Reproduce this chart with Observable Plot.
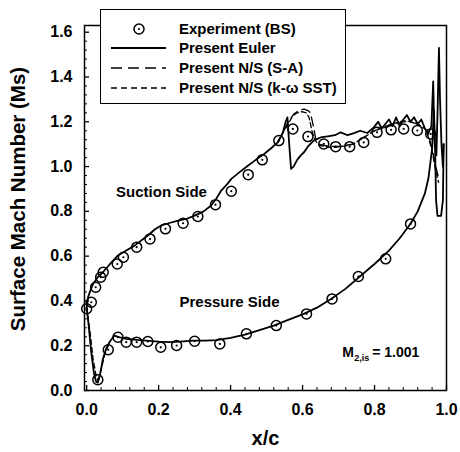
<!DOCTYPE html>
<html>
<head>
<meta charset="utf-8">
<script src="https://cdn.jsdelivr.net/npm/d3@7"></script>
<script src="https://cdn.jsdelivr.net/npm/@observablehq/plot@0.6"></script>
<style>
  html, body { margin: 0; padding: 0; background: white; }
  #wrap { position: relative; width: 460px; height: 452px; font-family: "Liberation Sans", Arial, sans-serif; }
  #legend { position: absolute; left: 100px; top: 9px; width: 244px; height: 93px; border: 1.5px solid black; background: white; font-weight: bold; font-size: 15px; }
  #legend .row { position: absolute; left: 0; height: 18px; width: 100%; }
  #legend svg { position: absolute; left: 8px; top: 0; }
  #legend span { position: absolute; left: 78px; top: 0; line-height: 18px; white-space: nowrap; }
</style>
</head>
<body>
<div id="wrap"></div>
<script>
// ---- Experimental data (BS) ----
const expSucX = [0.0, 0.013, 0.025, 0.039, 0.046, 0.085, 0.102, 0.139, 0.176, 0.219, 0.268, 0.309, 0.358, 0.402, 0.449, 0.488, 0.534, 0.573, 0.615, 0.659, 0.692, 0.731, 0.770, 0.807, 0.846, 0.881, 0.919, 0.956];
const expSucM = [0.365, 0.394, 0.461, 0.506, 0.528, 0.565, 0.595, 0.640, 0.677, 0.722, 0.747, 0.777, 0.830, 0.890, 0.964, 1.030, 1.116, 1.168, 1.134, 1.101, 1.089, 1.089, 1.108, 1.153, 1.164, 1.168, 1.161, 1.146];
const expPresX = [0.031, 0.060, 0.087, 0.110, 0.139, 0.170, 0.206, 0.250, 0.300, 0.370, 0.444, 0.527, 0.611, 0.682, 0.755, 0.831, 0.900];
const expPresM = [0.048, 0.182, 0.238, 0.216, 0.216, 0.219, 0.193, 0.201, 0.220, 0.208, 0.253, 0.290, 0.342, 0.409, 0.509, 0.588, 0.744];

// ---- Present Euler ----
const eulerSucX = [0.0, 0.004, 0.01, 0.018, 0.03, 0.045, 0.065, 0.087, 0.11, 0.133, 0.15, 0.17, 0.19, 0.207, 0.23, 0.254, 0.28, 0.3, 0.325, 0.346, 0.36, 0.374, 0.39, 0.402, 0.425, 0.448, 0.47, 0.494, 0.515, 0.531,
  0.545, 0.553, 0.558, 0.562, 0.568, 0.575, 0.585, 0.595, 0.604, 0.615, 0.631, 0.65, 0.67, 0.69, 0.706, 0.725, 0.743, 0.76, 0.78, 0.798, 0.81, 0.82, 0.83, 0.84, 0.85, 0.86, 0.87, 0.88, 0.89, 0.9, 0.91, 0.92, 0.93, 0.94, 0.95, 0.958, 0.963, 0.967, 0.972, 0.976, 0.979, 0.982, 0.986, 0.99, 0.992];
const eulerSucM = [0.37, 0.417, 0.445, 0.476, 0.505, 0.528, 0.565, 0.603, 0.625, 0.647, 0.668, 0.692, 0.72, 0.737, 0.748, 0.759, 0.768, 0.781, 0.8, 0.826, 0.856, 0.893, 0.92, 0.945, 0.975, 1.004, 1.03, 1.057, 1.085, 1.108,
  1.15, 1.2, 1.22, 1.12, 0.99, 1.0, 1.03, 1.05, 1.064, 1.09, 1.116, 1.13, 1.135, 1.14, 1.153, 1.14, 1.149, 1.16, 1.15, 1.175, 1.2, 1.17, 1.19, 1.21, 1.18, 1.22, 1.18, 1.21, 1.23, 1.2, 1.22, 1.19, 1.21, 1.17, 1.15, 1.18, 1.38, 1.1, 1.05, 1.3, 1.53, 1.3, 1.1, 1.0, 1.1];
const eulerPresX = [0.0, 0.005, 0.012, 0.02, 0.026, 0.031, 0.037, 0.045, 0.054, 0.065, 0.077, 0.09, 0.109, 0.14, 0.174, 0.2, 0.23, 0.26, 0.294, 0.33, 0.36, 0.4, 0.44, 0.48, 0.52, 0.56, 0.6, 0.64, 0.68, 0.72, 0.76, 0.8, 0.84, 0.87, 0.9, 0.92, 0.94, 0.95, 0.96, 0.965, 0.968, 0.971, 0.975, 0.985, 0.99, 0.992];
const eulerPresM = [0.37, 0.30, 0.18, 0.08, 0.04, 0.035, 0.07, 0.14, 0.186, 0.22, 0.245, 0.238, 0.231, 0.226, 0.222, 0.218, 0.216, 0.218, 0.223, 0.223, 0.225, 0.235, 0.25, 0.27, 0.29, 0.315, 0.34, 0.37, 0.41, 0.455, 0.51, 0.565, 0.625, 0.68, 0.745, 0.80, 0.88, 0.95, 1.08, 1.25, 1.1, 0.85, 0.78, 0.78, 0.85, 1.1];

// ---- Present N/S (S-A) : shock region and aft part of suction side ----
const saSucX = [0.531, 0.545, 0.56, 0.576, 0.59, 0.604, 0.615, 0.622, 0.63, 0.636, 0.645, 0.66, 0.68, 0.7, 0.72, 0.74, 0.76, 0.78, 0.8, 0.82, 0.84, 0.86, 0.88, 0.9, 0.92, 0.94, 0.95, 0.96, 0.97, 0.978];
const saSucM = [1.108, 1.15, 1.2, 1.235, 1.25, 1.257, 1.25, 1.24, 1.18, 1.13, 1.10, 1.095, 1.09, 1.09, 1.095, 1.10, 1.12, 1.14, 1.16, 1.17, 1.18, 1.19, 1.2, 1.2, 1.19, 1.17, 1.14, 1.08, 1.0, 0.95];
// ---- Present N/S (k-w SST) ----
const sstSucX = [0.531, 0.545, 0.56, 0.572, 0.585, 0.598, 0.61, 0.618, 0.626, 0.634, 0.645, 0.66, 0.68, 0.7, 0.72, 0.74, 0.76, 0.78, 0.8, 0.82, 0.84, 0.86, 0.88, 0.9, 0.92, 0.94, 0.95, 0.96, 0.97, 0.978];
const sstSucM = [1.108, 1.15, 1.19, 1.225, 1.24, 1.245, 1.24, 1.22, 1.16, 1.12, 1.095, 1.09, 1.085, 1.088, 1.092, 1.10, 1.12, 1.14, 1.16, 1.175, 1.185, 1.195, 1.205, 1.2, 1.19, 1.17, 1.13, 1.07, 0.98, 0.93];
const nsPresX = [0.0, 0.008, 0.018, 0.027, 0.033, 0.04, 0.05, 0.06];
const nsPresM = [0.37, 0.28, 0.14, 0.06, 0.05, 0.09, 0.16, 0.2];

// ---- Axis ticks ----
const xTicks = [0.0, 0.2, 0.4, 0.6, 0.8, 1.0];
const yTicks = [0.0, 0.2, 0.4, 0.6, 0.8, 1.0, 1.2, 1.4, 1.6];
const xMinor = [0.04, 0.08, 0.12, 0.16, 0.24, 0.28, 0.32, 0.36, 0.44, 0.48, 0.52, 0.56, 0.64, 0.68, 0.72, 0.76, 0.84, 0.88, 0.92, 0.96];
const yMinor = [0.04, 0.08, 0.12, 0.16, 0.24, 0.28, 0.32, 0.36, 0.44, 0.48, 0.52, 0.56, 0.64, 0.68, 0.72, 0.76, 0.84, 0.88, 0.92, 0.96, 1.04, 1.08, 1.12, 1.16, 1.24, 1.28, 1.32, 1.36, 1.44, 1.48, 1.52, 1.56];

const zip = (xs, ys) => xs.map((x, i) => ({x, y: ys[i]}));
const expSuc = zip(expSucX, expSucM);
const expPres = zip(expPresX, expPresM);
const exp = expSuc.concat(expPres);
const eulerSuc = zip(eulerSucX, eulerSucM);
const eulerPres = zip(eulerPresX, eulerPresM);
const saSuc = zip(saSucX, saSucM);
const sstSuc = zip(sstSucX, sstSucM);
const nsPres = zip(nsPresX, nsPresM);

const X0 = -0.006, X1 = 1.0, Y0 = 0, Y1 = 1.63;
const W = 460, H = 452, ML = 84, MR = 14, MT = 25, MB = 62;
const pxX = (X1 - X0) / (W - ML - MR);
const pxY = (Y1 - Y0) / (H - MT - MB);
const fmt = d3.format(".1f");
const FONT = '"Liberation Sans", Arial, sans-serif';

const chart = Plot.plot({
  width: W, height: H,
  marginLeft: ML, marginRight: MR, marginTop: MT, marginBottom: MB,
  x: {domain: [X0, X1]},
  y: {domain: [Y0, Y1]},
  style: {fontFamily: FONT, fontWeight: "bold", background: "white", color: "black"},
  marks: [
    Plot.frame({stroke: "black", strokeWidth: 1.5}),
    Plot.axisX(xTicks, {tickSize: 0, tickPadding: 13, tickFormat: fmt, fontSize: 16, label: null}),
    Plot.axisY(yTicks, {tickSize: 0, tickPadding: 12, tickFormat: fmt, fontSize: 16, label: null}),
    Plot.ruleX(xTicks, {x: d => d, y1: () => Y0, y2: () => Y0 + 5 * pxY, stroke: "black", strokeWidth: 1.3}),
    Plot.ruleX(xMinor, {x: d => d, y1: () => Y0, y2: () => Y0 + 3 * pxY, stroke: "black", strokeWidth: 1}),
    Plot.ruleY(yTicks, {y: d => d, x1: () => X0, x2: () => X0 + 5 * pxX, stroke: "black", strokeWidth: 1.3}),
    Plot.ruleY(yMinor, {y: d => d, x1: () => X0, x2: () => X0 + 3 * pxX, stroke: "black", strokeWidth: 1}),
    Plot.text(["x/c"], {text: d => d, frameAnchor: "bottom", dy: 54, fontSize: 20}),
    Plot.text(["Surface Mach Number (Ms)"], {text: d => d, frameAnchor: "left", textAnchor: "middle", dx: -66, dy: -9, rotate: -90, fontSize: 20.5}),
    // N/S lines
    Plot.line(saSuc, {x: "x", y: "y", stroke: "black", strokeWidth: 1.3, strokeDasharray: "9,5"}),
    Plot.line(sstSuc, {x: "x", y: "y", stroke: "black", strokeWidth: 1.3, strokeDasharray: "5,3"}),
    Plot.line(nsPres, {x: "x", y: "y", stroke: "black", strokeWidth: 1.3, strokeDasharray: "5,3"}),
    // Euler
    Plot.line(eulerSuc, {x: "x", y: "y", stroke: "black", strokeWidth: 1.8}),
    Plot.line(eulerPres, {x: "x", y: "y", stroke: "black", strokeWidth: 1.8}),
    // Experiment
    Plot.dot(exp, {x: "x", y: "y", r: 5, stroke: "black", strokeWidth: 1.5, fill: "none"}),
    Plot.dot(exp, {x: "x", y: "y", r: 1.1, fill: "black"}),
    // annotations
    Plot.text([{x: 0.208, y: 0.884, t: "Suction Side"}], {x: "x", y: "y", text: "t", fontSize: 15}),
    Plot.text([{x: 0.397, y: 0.394, t: "Pressure Side"}], {x: "x", y: "y", text: "t", fontSize: 15}),
    Plot.text([{x: 0.71, y: 0.171, t: "M"}], {x: "x", y: "y", text: "t", fontSize: 14, textAnchor: "start"}),
    Plot.text([{x: 0.71, y: 0.171, t: "2,is"}], {x: "x", y: "y", text: "t", fontSize: 9, textAnchor: "start", dx: 12, dy: 6}),
    Plot.text([{x: 0.71, y: 0.171, t: "= 1.001"}], {x: "x", y: "y", text: "t", fontSize: 14, textAnchor: "start", dx: 30})
  ]
});

const wrap = document.getElementById("wrap");
wrap.appendChild(chart);

// legend
const legendItems = [
  {label: "Experiment (BS)", kind: "dot"},
  {label: "Present Euler", kind: "solid"},
  {label: "Present N/S (S-A)", kind: "sa"},
  {label: "Present N/S (k-\u03c9 SST)", kind: "sst"}
];
const legend = document.createElement("div");
legend.id = "legend";
const rowTops = [10, 29, 49, 69];
legendItems.forEach((it, i) => {
  const row = document.createElement("div");
  row.className = "row";
  row.style.top = rowTops[i] + "px";
  let sw = "";
  if (it.kind === "dot") sw = '<circle cx="30" cy="9" r="5" fill="none" stroke="black" stroke-width="1.5"/><circle cx="30" cy="9" r="1.1" fill="black"/>';
  else if (it.kind === "solid") sw = '<line x1="2" x2="57" y1="9" y2="9" stroke="black" stroke-width="1.8"/>';
  else if (it.kind === "sa") sw = '<line x1="2" x2="57" y1="9" y2="9" stroke="black" stroke-width="1.3" stroke-dasharray="11,6"/>';
  else sw = '<line x1="2" x2="57" y1="9" y2="9" stroke="black" stroke-width="1.3" stroke-dasharray="6,4"/>';
  row.innerHTML = '<svg width="60" height="18">' + sw + '</svg><span>' + it.label + '</span>';
  legend.appendChild(row);
});
wrap.appendChild(legend);
</script>
</body>
</html>
